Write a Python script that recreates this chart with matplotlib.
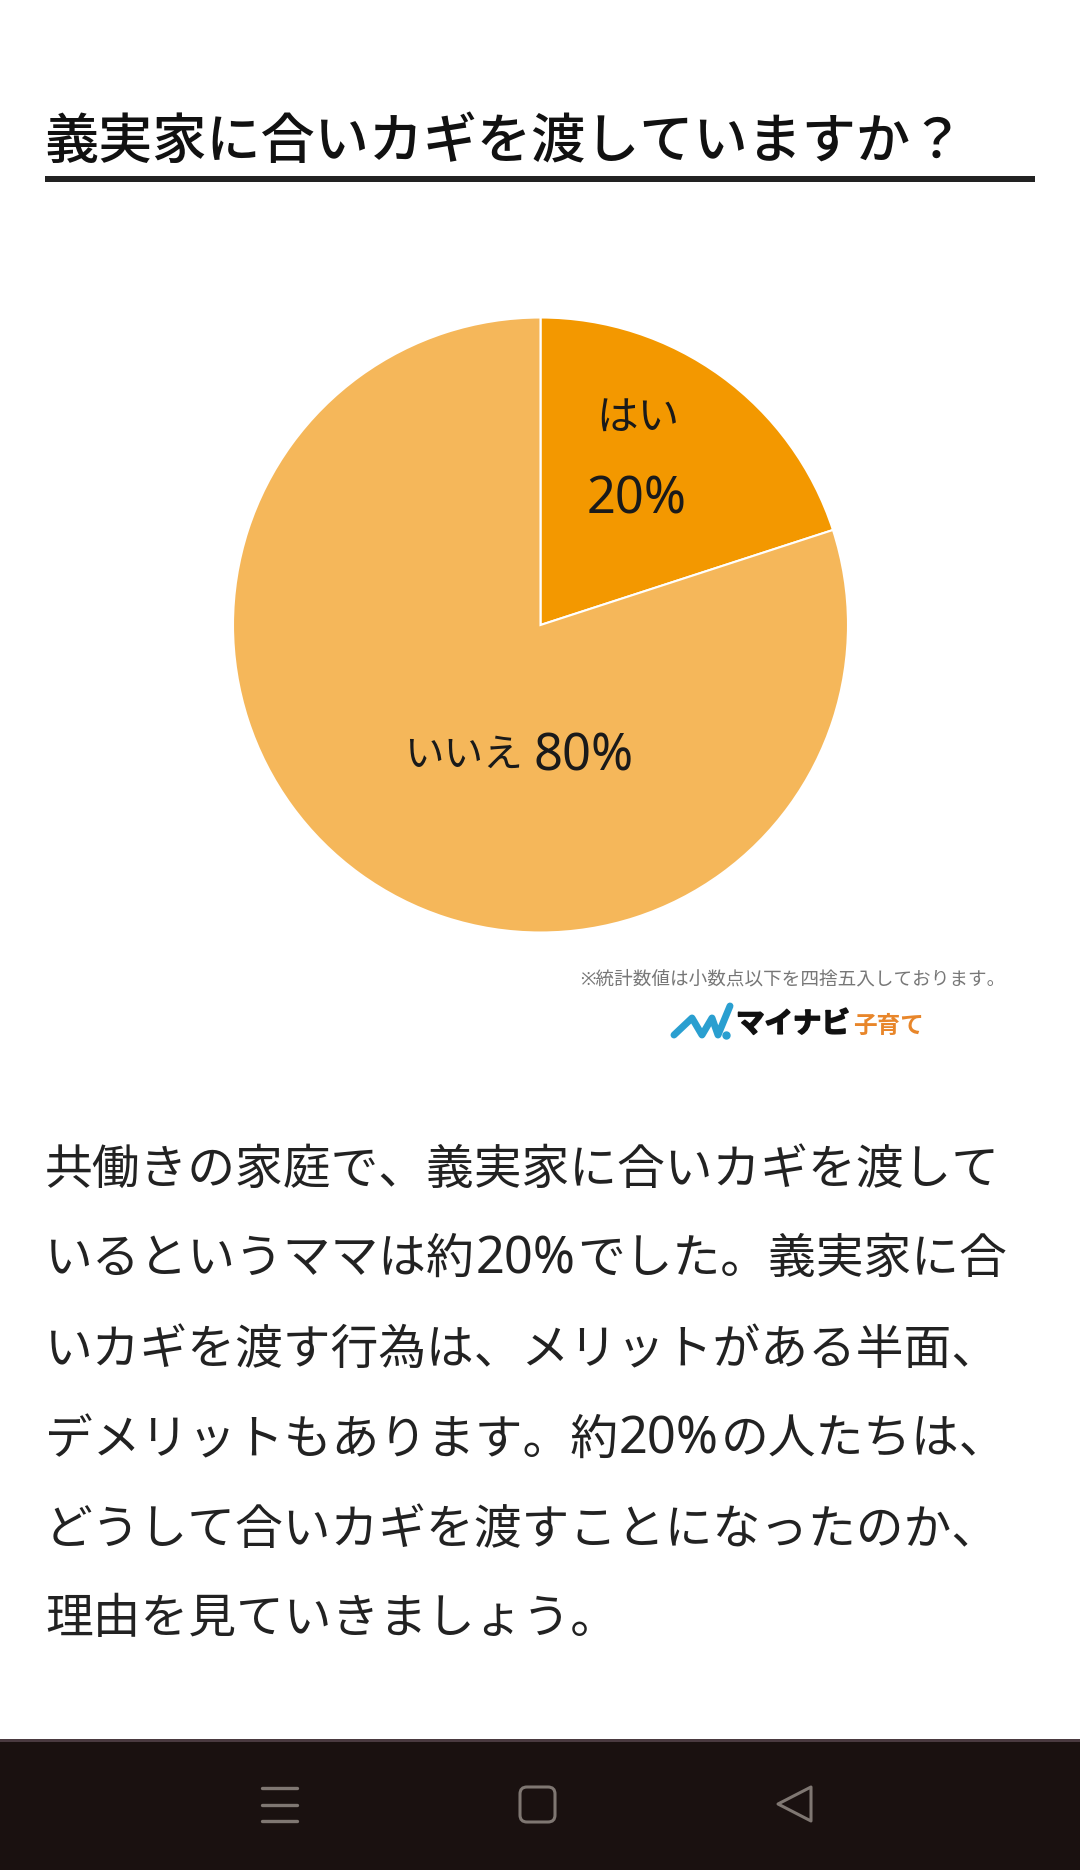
import re
import matplotlib
matplotlib.use('Agg')
import matplotlib.pyplot as plt
import matplotlib.patheffects as pe
from matplotlib.patches import Rectangle, FancyBboxPatch, Polygon

plt.rcParams['font.family'] = ['Noto Sans', 'Noto Sans CJK JP', 'DejaVu Sans']

title = '義実家に合いカギを渡していますか？'
categories = ['はい', 'いいえ']
values = [20, 80]
colors = ['#F39800', '#F5B75A']
note = '※統計数値は小数点以下を四捨五入しております。'
body_lines = [
    '共働きの家庭で、義実家に合いカギを渡して',
    'いるというママは約20%でした。義実家に合',
    'いカギを渡す行為は、メリットがある半面、',
    'デメリットもあります。約20%の人たちは、',
    'どうして合いカギを渡すことになったのか、',
    '理由を見ていきましょう。',
]
body_base = [1184, 1273, 1364, 1454, 1544, 1633]

W, H = 1080, 1870
fig = plt.figure(figsize=(W/100, H/100), dpi=100, facecolor='white')

# everything except the pie is placed in pixel coordinates
bg = fig.add_axes([0, 0, 1, 1])
bg.set_xlim(0, W)
bg.set_ylim(H, 0)
bg.axis('off')

# title and rule
bg.text(44, 143, title, fontsize=39, weight='medium', color='#111111', va='center', ha='left')
bg.add_patch(Rectangle((45, 176), 990, 5.5, color='#222222', lw=0))

# pie
cx, cy, r = 540.5, 625, 307.5
pie_ax = fig.add_axes([(cx-r)/W, 1-(cy+r)/H, 2*r/W, 2*r/H])
pie_ax.pie(values, colors=colors, startangle=90, counterclock=False, radius=1,
           wedgeprops={'edgecolor': 'white', 'linewidth': 1.5})
pie_ax.set_xlim(-1, 1)
pie_ax.set_ylim(-1, 1)

bg.set_zorder(2)
bg.patch.set_alpha(0)
bg.text(638, 420, categories[0], fontsize=30, color='#1a1a1a', ha='center', va='center')
bg.text(637, 500, f'{values[0]}%', fontsize=36.5, color='#1a1a1a', ha='center', va='center')
bg.text(463, 757, categories[1], fontsize=28.5, color='#1a1a1a', ha='center', va='center')
bg.text(583.5, 757, f'{values[1]}%', fontsize=36.5, color='#1a1a1a', ha='center', va='center')

# footnote and logo
bg.text(580, 979, note, fontsize=13.4, color='#777777', ha='left', va='center')
bg.plot([674, 692, 702, 712, 718, 730], [1035, 1018, 1035, 1018, 1035, 1006],
        color='#2A9FD0', lw=5, solid_capstyle='round', solid_joinstyle='round')
bg.plot([726], [1035], 'o', color='#2A9FD0', ms=5)
bg.text(736, 1025, 'マイナビ', fontsize=20.5, weight='bold', color='#111111', ha='left', va='center',
        path_effects=[pe.withStroke(linewidth=1.2, foreground='#111111')])
bg.text(853, 1027, '子育て', fontsize=17, weight='bold', color='#E8862A', ha='left', va='center')

# body text, the percent runs are set a bit larger than the kana
pitch = 47.8
for line, y in zip(body_lines, body_base):
    x = 45
    for part in re.split(r'(20%)', line):
        if part == '20%':
            bg.text(x, y, part, fontsize=36.5, color='#222222', ha='left', va='baseline')
            x += 102
        elif part:
            bg.text(x, y, part, fontsize=34.4, color='#222222', ha='left', va='baseline')
            x += len(part)*pitch

# phone navigation bar
bg.add_patch(Rectangle((0, 1739), W, 3, color='#4A3A40', lw=0))
bg.add_patch(Rectangle((0, 1742), W, H-1742, color='#1A1110', lw=0))
icon = '#7F7772'
for y in [1788, 1805, 1821]:
    bg.plot([262, 297], [y, y], color=icon, lw=2.4, solid_capstyle='round')
bg.add_patch(FancyBboxPatch((520, 1787), 35, 35, boxstyle='round,pad=0,rounding_size=7',
                            fc='none', ec=icon, lw=2.2, mutation_aspect=1))
bg.add_patch(Polygon([(778, 1804), (811, 1787), (811, 1821)], closed=True,
                     fc='none', ec=icon, lw=2.2, joinstyle='round'))

fig.savefig('out.png', dpi=100, facecolor='white')
